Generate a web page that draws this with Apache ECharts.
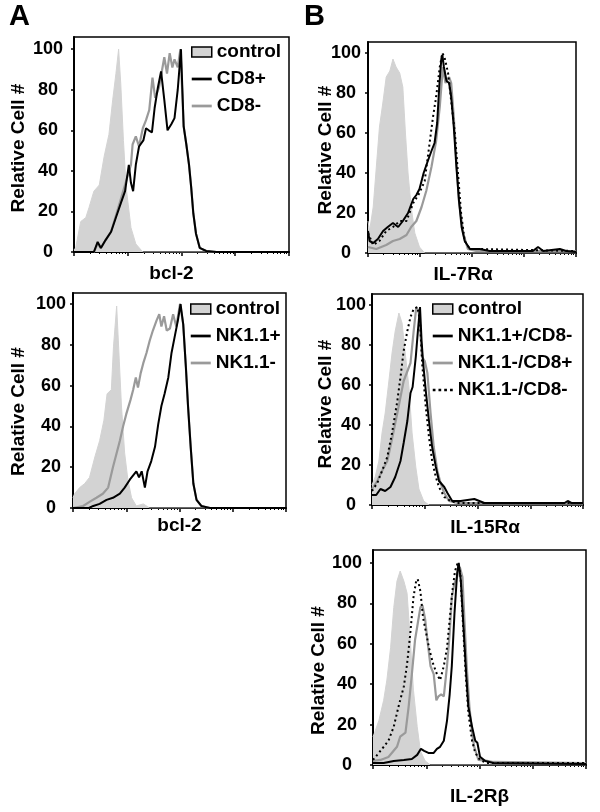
<!DOCTYPE html>
<html>
<head>
<meta charset="utf-8">
<script src="https://cdn.jsdelivr.net/npm/echarts@6/dist/echarts.min.js"></script>
<style>
  html, body { margin: 0; padding: 0; background: #fff; }
  #chart { width: 600px; height: 812px; }
</style>
</head>
<body>
<div id="chart"></div>
<script>
// x values are in log decades (0..4), y in Relative Cell # (0..100)
const aTopControl = [[0,1],[0.03,2],[0.125,15],[0.22,17],[0.28,22],[0.37,30],[0.47,33],[0.56,47],[0.65,58],[0.72,75],[0.78,88],[0.83,100],[0.87,83],[0.92,55],[0.97,32],[1.06,12],[1.15,4],[1.28,0],[4,0]];
const aTopCD8pos = [[0,0],[0.37,0],[0.44,5],[0.50,2],[0.59,6],[0.69,10],[0.78,17],[0.87,24],[0.95,30],[1.02,43],[1.06,34],[1.10,30],[1.15,43],[1.21,52],[1.29,55],[1.34,61],[1.39,60],[1.45,59],[1.50,71],[1.56,81],[1.62,89],[1.68,75],[1.74,60],[1.81,63],[1.87,66],[1.93,80],[1.99,100],[2.04,62],[2.09,53],[2.14,43],[2.18,32],[2.22,19],[2.27,9],[2.34,2],[2.46,0.5],[2.65,0],[4,0]];
const aTopCD8neg = [[0,0],[0.37,0],[0.44,4],[0.50,2],[0.59,6],[0.69,10],[0.78,18],[0.87,26],[0.97,35],[1.06,43],[1.09,53],[1.15,57],[1.21,52],[1.28,61],[1.34,65],[1.40,70],[1.46,86],[1.51,76],[1.58,81],[1.64,90],[1.68,96],[1.73,88],[1.78,98],[1.83,91],[1.87,95],[1.93,91],[1.98,100],[2.04,62],[2.09,53],[2.14,43],[2.18,32],[2.22,19],[2.27,9],[2.34,2],[2.46,0.5],[2.65,0],[4,0]];

const aBotControl = [[0,5],[0.03,7],[0.125,10],[0.22,12],[0.31,15],[0.41,25],[0.50,33],[0.58,43],[0.64,56],[0.72,58],[0.76,79],[0.82,99],[0.87,72],[0.91,50],[0.97,27],[1.03,14],[1.10,5],[1.19,1],[1.32,2],[1.44,0],[4,0]];
const aBotNKpos = [[0,0],[0.30,0],[0.38,1],[0.50,2],[0.63,4],[0.75,5],[0.88,7],[0.97,10],[1.07,14],[1.13,16],[1.19,18],[1.24,15],[1.29,18],[1.35,10],[1.40,18],[1.47,23],[1.54,30],[1.60,41],[1.66,50],[1.72,56],[1.79,64],[1.85,76],[1.91,84],[1.97,92],[2.02,100],[2.07,90],[2.12,69],[2.16,50],[2.21,30],[2.26,12],[2.32,4],[2.41,1],[2.57,0],[4,0]];
const aBotNKneg = [[0,0],[0.19,1],[0.31,3],[0.44,5],[0.56,7],[0.66,10],[0.75,20],[0.82,27],[0.88,33],[0.94,40],[1.00,46],[1.08,53],[1.13,58],[1.18,64],[1.22,59],[1.27,66],[1.32,71],[1.38,76],[1.44,82],[1.50,87],[1.57,92],[1.62,95],[1.66,89],[1.71,94],[1.76,87],[1.82,88],[1.88,95],[1.94,89],[2.01,100],[2.07,90],[2.12,69],[2.16,50],[2.21,30],[2.26,12],[2.32,4],[2.41,1],[2.57,0],[4,0]];

const bTopControl = [[0,16],[0.03,11],[0.10,23],[0.16,43],[0.22,63],[0.29,76],[0.35,88],[0.42,91],[0.48,97],[0.54,93],[0.61,90],[0.67,83],[0.72,60],[0.77,40],[0.83,23],[0.90,10],[0.99,3],[1.09,0],[4,0]];
const bTopNKposCD8neg = [[0,11],[0.03,6],[0.10,5],[0.19,7],[0.29,11],[0.38,13],[0.48,15],[0.58,13],[0.67,16],[0.77,20],[0.87,27],[0.93,29],[0.99,32],[1.07,40],[1.15,46],[1.22,51],[1.28,55],[1.33,65],[1.37,83],[1.41,97],[1.43,99],[1.46,93],[1.51,86],[1.56,85],[1.60,78],[1.65,63],[1.70,43],[1.75,26],[1.80,13],[1.86,6],[1.96,2],[2.15,2],[2.34,1],[2.85,1],[3.17,1],[3.27,3],[3.37,1],[3.69,2],[3.81,1],[4,0.5]];
const bTopNKnegCD8pos = [[0,3],[0.16,2],[0.35,4],[0.48,6],[0.61,7],[0.74,9],[0.83,13],[0.93,16],[1.03,23],[1.12,31],[1.22,43],[1.31,56],[1.38,73],[1.44,93],[1.49,85],[1.56,88],[1.60,85],[1.65,68],[1.70,46],[1.75,26],[1.83,10],[1.92,2],[2.08,1],[4,1]];
const bTopNKnegCD8neg = [[0,10],[0.10,4],[0.22,6],[0.35,11],[0.48,13],[0.61,16],[0.74,16],[0.87,25],[0.99,30],[1.09,36],[1.19,56],[1.25,68],[1.31,78],[1.38,93],[1.43,100],[1.47,98],[1.54,90],[1.60,76],[1.67,60],[1.73,40],[1.79,20],[1.86,6],[1.96,2],[2.15,2],[4,1]];

const bMidControl = [[0,10],[0.02,11],[0.06,14],[0.13,22],[0.19,36],[0.25,46],[0.32,62],[0.38,76],[0.44,87],[0.51,96],[0.57,91],[0.63,76],[0.70,59],[0.76,36],[0.83,19],[0.89,8],[0.98,2],[1.08,0],[4,0]];
const bMidNKposCD8neg = [[0,5],[0.02,6],[0.08,5],[0.16,8],[0.25,7],[0.35,9],[0.44,14],[0.54,22],[0.60,31],[0.67,42],[0.73,56],[0.77,59],[0.83,74],[0.87,87],[0.91,99],[0.94,82],[0.97,71],[1.02,57],[1.08,42],[1.14,29],[1.21,19],[1.27,12],[1.37,9],[1.43,6],[1.52,2],[1.68,2],[1.94,3],[2.13,1],[3.65,1],[3.71,2],[3.78,1],[4,1]];
const bMidNKnegCD8pos = [[0,8],[0.02,9],[0.10,12],[0.19,17],[0.29,22],[0.38,33],[0.48,46],[0.60,62],[0.73,71],[0.79,87],[0.84,99],[0.89,96],[0.95,74],[1.00,72],[1.05,66],[1.11,46],[1.17,29],[1.24,17],[1.30,11],[1.37,6],[1.46,2],[1.62,1],[4,1]];
const bMidNKnegCD8neg = [[0,7],[0.02,7],[0.10,11],[0.19,17],[0.29,24],[0.38,36],[0.48,52],[0.54,64],[0.60,77],[0.67,87],[0.73,94],[0.79,98],[0.86,99],[0.91,92],[0.95,71],[1.02,49],[1.08,34],[1.14,22],[1.21,14],[1.27,9],[1.37,4],[1.49,2],[1.62,1],[4,1]];

const bBotControl = [[0,14],[0.03,16],[0.11,22],[0.20,32],[0.26,42],[0.33,58],[0.39,78],[0.45,91],[0.51,96],[0.58,91],[0.64,85],[0.70,62],[0.76,37],[0.83,19],[0.89,7],[0.98,2],[1.08,0],[4,0]];
const bBotNKposCD8neg = [[0,1],[0.20,1],[0.39,2],[0.58,2.5],[0.73,3],[0.83,5],[0.90,8],[0.96,7],[1.04,6],[1.14,6],[1.20,8],[1.26,9],[1.33,12],[1.39,22],[1.44,35],[1.48,49],[1.53,75],[1.58,95],[1.61,100],[1.65,91],[1.70,68],[1.75,45],[1.79,29],[1.86,19],[1.92,12],[1.96,11],[2.01,4],[2.11,2],[2.26,1],[4,0.5]];
const bBotNKnegCD8pos = [[0,2],[0.14,2.5],[0.29,4],[0.45,9],[0.51,14],[0.61,16],[0.67,29],[0.73,45],[0.79,62],[0.84,70],[0.89,78],[0.93,79],[0.98,72],[1.03,60],[1.08,49],[1.14,45],[1.19,32],[1.23,34],[1.28,35],[1.33,34],[1.39,49],[1.44,65],[1.48,83],[1.53,90],[1.58,93],[1.63,98],[1.68,93],[1.72,70],[1.76,49],[1.81,29],[1.86,16],[1.90,9],[1.98,2.5],[2.14,2],[2.26,1.5],[4,1]];
const bBotNKnegCD8neg = [[0,2.5],[0.11,6],[0.20,9],[0.29,12],[0.39,19],[0.48,29],[0.58,39],[0.64,50],[0.70,65],[0.76,83],[0.81,91],[0.84,92],[0.89,86],[0.94,73],[1.00,65],[1.06,57],[1.13,50],[1.20,45],[1.26,42],[1.33,49],[1.39,58],[1.44,72],[1.49,86],[1.54,96],[1.59,100],[1.64,95],[1.69,70],[1.74,45],[1.79,26],[1.86,12],[1.92,6],[2.01,2.5],[2.14,1],[4,1]];

const yTickValues = [0, 20, 40, 60, 80, 100];
const yTitle = 'Relative Cell #';
const xTitles = ['bcl-2', 'bcl-2', 'IL-7R\u03b1', 'IL-15R\u03b1', 'IL-2R\u03b2'];
const panelLetters = ['A', 'B'];

const FONT = 'Liberation Sans, Arial, Helvetica, sans-serif';
const CONTROL_FILL = '#d3d3d3';
const GRAY = '#9a9a9a';

const panels = [
  { grid: {left: 74, top: 37, width: 215, height: 215}, ymax: 106, labelMargin: 26, nameGap: 46, namePad: [0,7,0,0], xGap: 12, xPad: [0,20,0,0],
    series: [
      {name: 'control', kind: 'control', data: aTopControl},
      {name: 'CD8-', kind: 'gray', data: aTopCD8neg},
      {name: 'CD8+', kind: 'black', data: aTopCD8pos}
    ],
    legend: {left: 191, top: 42, items: ['control', 'CD8+', 'CD8-']} },
  { grid: {left: 73, top: 293, width: 213, height: 215}, ymax: 105.4, labelMargin: 22, nameGap: 45, namePad: [0,22,0,0], xGap: 8, xPad: [0,0,0,0],
    series: [
      {name: 'control', kind: 'control', data: aBotControl},
      {name: 'NK1.1-', kind: 'gray', data: aBotNKneg},
      {name: 'NK1.1+', kind: 'black', data: aBotNKpos}
    ],
    legend: {left: 190, top: 299, items: ['control', 'NK1.1+', 'NK1.1-']} },
  { grid: {left: 368, top: 42, width: 208, height: 211}, ymax: 105.5, labelMargin: 22, nameGap: 33, namePad: [0,5,0,0], xGap: 12, xPad: [0,18,0,0],
    series: [
      {name: 'control', kind: 'control', data: bTopControl},
      {name: 'NK1.1-/CD8+', kind: 'gray', data: bTopNKnegCD8pos},
      {name: 'NK1.1+/CD8-', kind: 'black', data: bTopNKposCD8neg},
      {name: 'NK1.1-/CD8-', kind: 'dotted', data: bTopNKnegCD8neg}
    ] },
  { grid: {left: 372, top: 294, width: 211, height: 211}, ymax: 105.5, labelMargin: 21, nameGap: 37, namePad: [0,9,0,0], xGap: 13, xPad: [0,0,0,15],
    series: [
      {name: 'control', kind: 'control', data: bMidControl},
      {name: 'NK1.1-/CD8+', kind: 'gray', data: bMidNKnegCD8pos},
      {name: 'NK1.1+/CD8-', kind: 'black', data: bMidNKposCD8neg},
      {name: 'NK1.1-/CD8-', kind: 'dotted', data: bMidNKnegCD8neg}
    ],
    legend: {left: 432, top: 299, items: ['control', 'NK1.1+/CD8-', 'NK1.1-/CD8+', 'NK1.1-/CD8-']} },
  { grid: {left: 373, top: 550, width: 213, height: 215}, ymax: 106.4, labelMargin: 26, nameGap: 45, namePad: [0,26,0,0], xGap: 22, xPad: [0,0,0,0],
    series: [
      {name: 'control', kind: 'control', data: bBotControl},
      {name: 'NK1.1-/CD8+', kind: 'gray', data: bBotNKnegCD8pos},
      {name: 'NK1.1+/CD8-', kind: 'black', data: bBotNKposCD8neg},
      {name: 'NK1.1-/CD8-', kind: 'dotted', data: bBotNKnegCD8neg}
    ] }
];

const grids = [], xAxes = [], yAxes = [], seriesList = [], legends = [];
const textBold = { color: '#000', fontFamily: FONT, fontWeight: 'bold' };

function legendItem(name, kind) {
  if (kind === 'control') {
    return { name, icon: 'rect', itemStyle: { color: CONTROL_FILL, borderColor: '#000', borderWidth: 1.5 } };
  }
  if (kind === 'dotted') {
    return { name, icon: 'path://M0,0h3v3h-3z M6.3,0h3v3h-3z M12.6,0h3v3h-3z M19,0h3v3h-3z', itemStyle: { color: '#000', borderWidth: 0 } };
  }
  return { name, icon: 'path://M0,0H22V3H0Z', itemStyle: { color: kind === 'gray' ? GRAY : '#000', borderWidth: 0 } };
}

panels.forEach((p, i) => {
  grids.push(Object.assign({ show: true, borderColor: '#000', borderWidth: 1.5, backgroundColor: 'transparent' }, p.grid));
  // data axis (log decades, linear)
  xAxes.push({
    type: 'value', gridIndex: i, min: 0, max: 4, position: 'bottom',
    axisLine: { show: true, onZero: false, lineStyle: { color: '#000', width: 2 } },
    axisTick: { show: false }, axisLabel: { show: false }, splitLine: { show: false },
    name: xTitles[i], nameLocation: 'middle', nameGap: p.xGap, nameMoveOverlap: false,
    nameTextStyle: Object.assign({ fontSize: 19, padding: p.xPad }, textBold)
  });
  // log tick axis (decade + minor ticks)
  xAxes.push({
    type: 'log', logBase: 10, gridIndex: i, min: 1, max: 10000, position: 'bottom',
    axisLine: { show: false, onZero: false },
    axisTick: { show: true, length: 4, lineStyle: { color: '#000', width: 1.5 } },
    minorTick: { show: true, splitNumber: 9, length: 2, lineStyle: { color: '#000', width: 1 } },
    axisLabel: { show: false }, splitLine: { show: false }, minorSplitLine: { show: false }
  });
  yAxes.push({
    type: 'value', gridIndex: i, min: 0, max: p.ymax, interval: 20,
    axisLine: { show: true, onZero: false, lineStyle: { color: '#000', width: 2 } },
    axisTick: { show: true, length: 3, lineStyle: { color: '#000', width: 1.5 } },
    axisLabel: Object.assign({ fontSize: 18, align: 'center', margin: p.labelMargin, showMaxLabel: false,
      formatter: v => (yTickValues.indexOf(v) >= 0 ? String(v) : '') }, textBold),
    splitLine: { show: false },
    name: yTitle, nameLocation: 'middle', nameGap: p.nameGap, nameMoveOverlap: false,
    nameTextStyle: Object.assign({ fontSize: 19, padding: p.namePad }, textBold)
  });
  p.series.forEach(s => {
    const base = { type: 'line', name: s.name, xAxisIndex: 2 * i, yAxisIndex: i, data: s.data,
      symbol: 'none', silent: true, animation: false };
    if (s.kind === 'control') {
      base.lineStyle = { color: CONTROL_FILL, width: 1 };
      base.itemStyle = { color: CONTROL_FILL };
      base.areaStyle = { color: CONTROL_FILL, opacity: 1 };
    } else if (s.kind === 'gray') {
      base.lineStyle = { color: GRAY, width: 2.2 };
      base.itemStyle = { color: GRAY };
    } else if (s.kind === 'black') {
      base.lineStyle = { color: '#000', width: 2 };
      base.itemStyle = { color: '#000' };
    } else {
      base.lineStyle = { color: '#000', width: 2, type: [2, 3] };
      base.itemStyle = { color: '#000' };
    }
    seriesList.push(base);
  });
  if (p.legend) {
    const kinds = {};
    p.series.forEach(s => { kinds[s.name] = s.kind; });
    legends.push({
      left: p.legend.left, top: p.legend.top, orient: 'vertical', padding: 0,
      itemWidth: 20, itemHeight: 10, itemGap: 7, selectedMode: false,
      textStyle: Object.assign({ fontSize: 19, lineHeight: 20 }, textBold),
      data: p.legend.items.map(n => legendItem(n, kinds[n]))
    });
  }
});

const chart = echarts.init(document.getElementById('chart'), null, { renderer: 'canvas', width: 600, height: 812 });
chart.setOption({
  backgroundColor: '#fff',
  animation: false,
  title: [
    { text: panelLetters[0], left: 9, top: 2, padding: 0, textStyle: Object.assign({ fontSize: 29 }, textBold) },
    { text: panelLetters[1], left: 304, top: 2, padding: 0, textStyle: Object.assign({ fontSize: 29 }, textBold) }
  ],
  grid: grids,
  xAxis: xAxes,
  yAxis: yAxes,
  legend: legends,
  series: seriesList
});
</script>
</body>
</html>
